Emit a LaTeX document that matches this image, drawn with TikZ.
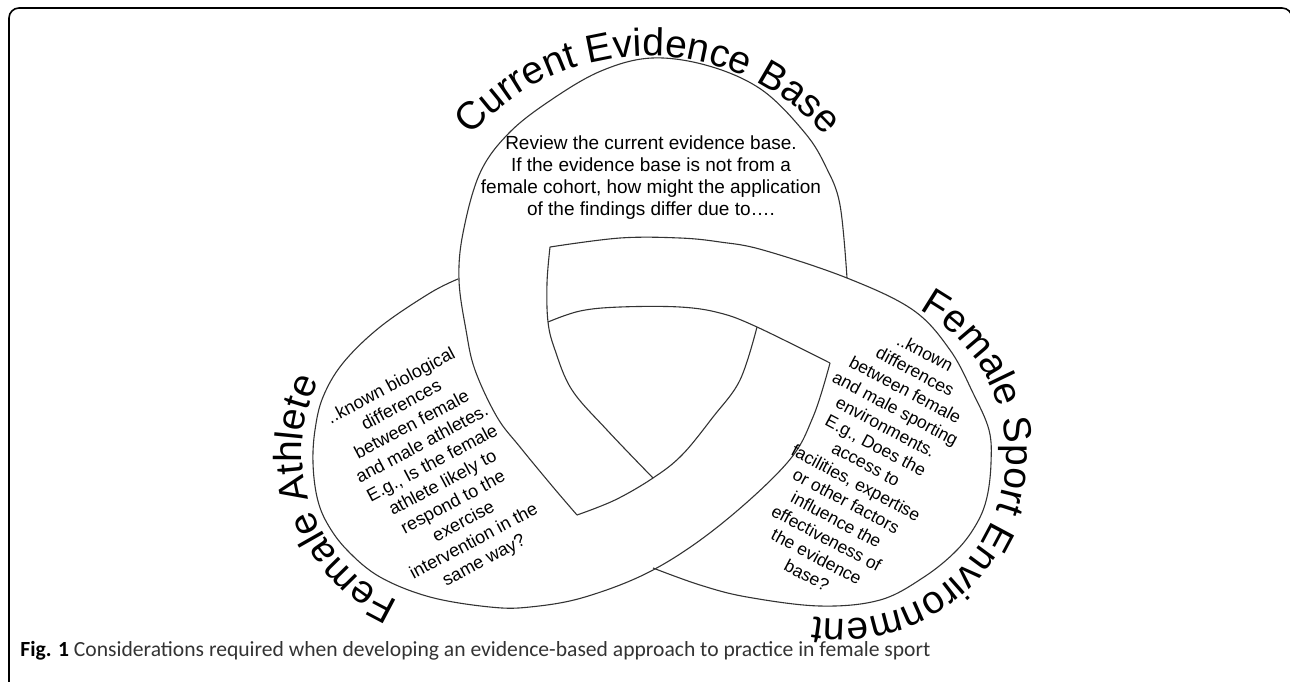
\documentclass[tikz,border=0pt]{standalone}
\usepackage{fontspec}
\setmainfont{Liberation Sans}
\newfontfamily\capfont{Carlito}
\usetikzlibrary{decorations.text}

\begin{document}
\begin{tikzpicture}[x=0.5pt, y=-0.5pt,
    knot/.style={draw=black!80, line width=0.55pt},
    lobetext/.style={font=\fontsize{#1}{11}\selectfont, align=center, inner sep=0pt},
    lobelabel/.style={decorate, decoration={text along path, text align=center,
        text={|\fontsize{19.5}{19.5}\selectfont|#1}}}]
  \useasboundingbox (0,0) rectangle (1290,681);
  \draw[line width=0.8pt, rounded corners=5pt] (9,720) -- (9,8) -- (1292,8) -- (1292,720);

  % corners and junctions of the knot
  \coordinate (cornerA) at (577,515);
  \coordinate (cornerB) at (830,363);
  \coordinate (cornerC) at (550,247);
  \coordinate (underA) at (847,278);
  \coordinate (underB) at (458,279);
  \coordinate (underC) at (653,478);

  % evidence lobe
  \draw[knot] plot[smooth, tension=0.6] coordinates {(underA) (840,205) (826,167) (805,133) (762,90) (709,66) (652,58) (601,71) (551,100) (509,133) (480,173) (463,233) (459,280) (466,330) (475,370) (497,417) (520,447) (553,487) (cornerA)};
  \draw[knot] plot[smooth, tension=0.6] coordinates {(cornerA) (615,500) (653,478) (682,455) (713,417) (740,380) (757,327)};
  % athlete lobe
  \draw[knot] plot[smooth, tension=0.6] coordinates {(underB) (430,293) (380,327) (343,363) (323,397) (315,430) (313,463) (317,497) (327,523) (347,550) (380,577) (430,597) (490,607) (530,607) (585,597) (653,570) (720,525) (787,463) (813,417) (cornerB)};
  \draw[knot] plot[smooth, tension=0.6] coordinates {(cornerB) (757,327) (720,313) (680,307) (620,307) (580,311) (548,322)};
  % environment lobe
  \draw[knot] plot[smooth, tension=0.6] coordinates {(underC) (607,430) (572,390) (555,350) (548,322) (547,283) (cornerC)};
  \draw[knot] plot[smooth, tension=0.6] coordinates {(cornerC) (620,238) (680,238) (720,242) (763,250) (847,278) (913,310) (950,350) (973,393) (989,430) (991,463) (987,497) (977,523) (957,550) (924,577) (880,600) (820,606) (747,597) (700,585) (653,568)};

  % lobe titles
  \path[lobelabel={Current Evidence Base}] (648,292) ++(-145:236) arc[start angle=-145, end angle=-35, radius=236];
  \path[lobelabel={Female Athlete}] (464,453) ++(104:162) arc[start angle=104, end angle=216, radius=162];
  \path[lobelabel={Female Sport Environment}] (842,455) ++(-75:164) arc[start angle=-75, end angle=113, radius=164];

  % lobe texts
  \node[lobetext=9.5] (evidencetext) at (651,178) {Review the current evidence base.\\If the evidence base is not from a\\female cohort, how might the application\\of the findings differ due to….};
  \node[lobetext=9, rotate=28] (athletetext) at (438,474) {..known biological\\differences\\between female\\and male athletes.\\E.g., Is the female\\athlete likely to\\respond to the\\exercise\\intervention in the\\same way?};
  \node[lobetext=8.75, rotate=-28, font=\fontsize{8.75}{10.5}\selectfont] (environmenttext) at (866,464) {..known\\differences\\between female\\and male sporting\\environments.\\E.g., Does the\\access to\\facilities, expertise\\or other factors\\influence the\\effectiveness of\\the evidence\\base?};

  \node[anchor=base west, inner sep=0pt, font=\capfont\fontsize{10.8}{12}\selectfont, text=black!80] (caption) at (20,656) {\textcolor{black}{\textbf{Fig. 1}} Considerations required when developing an evidence-based approach to practice in female sport};
\end{tikzpicture}
\end{document}
